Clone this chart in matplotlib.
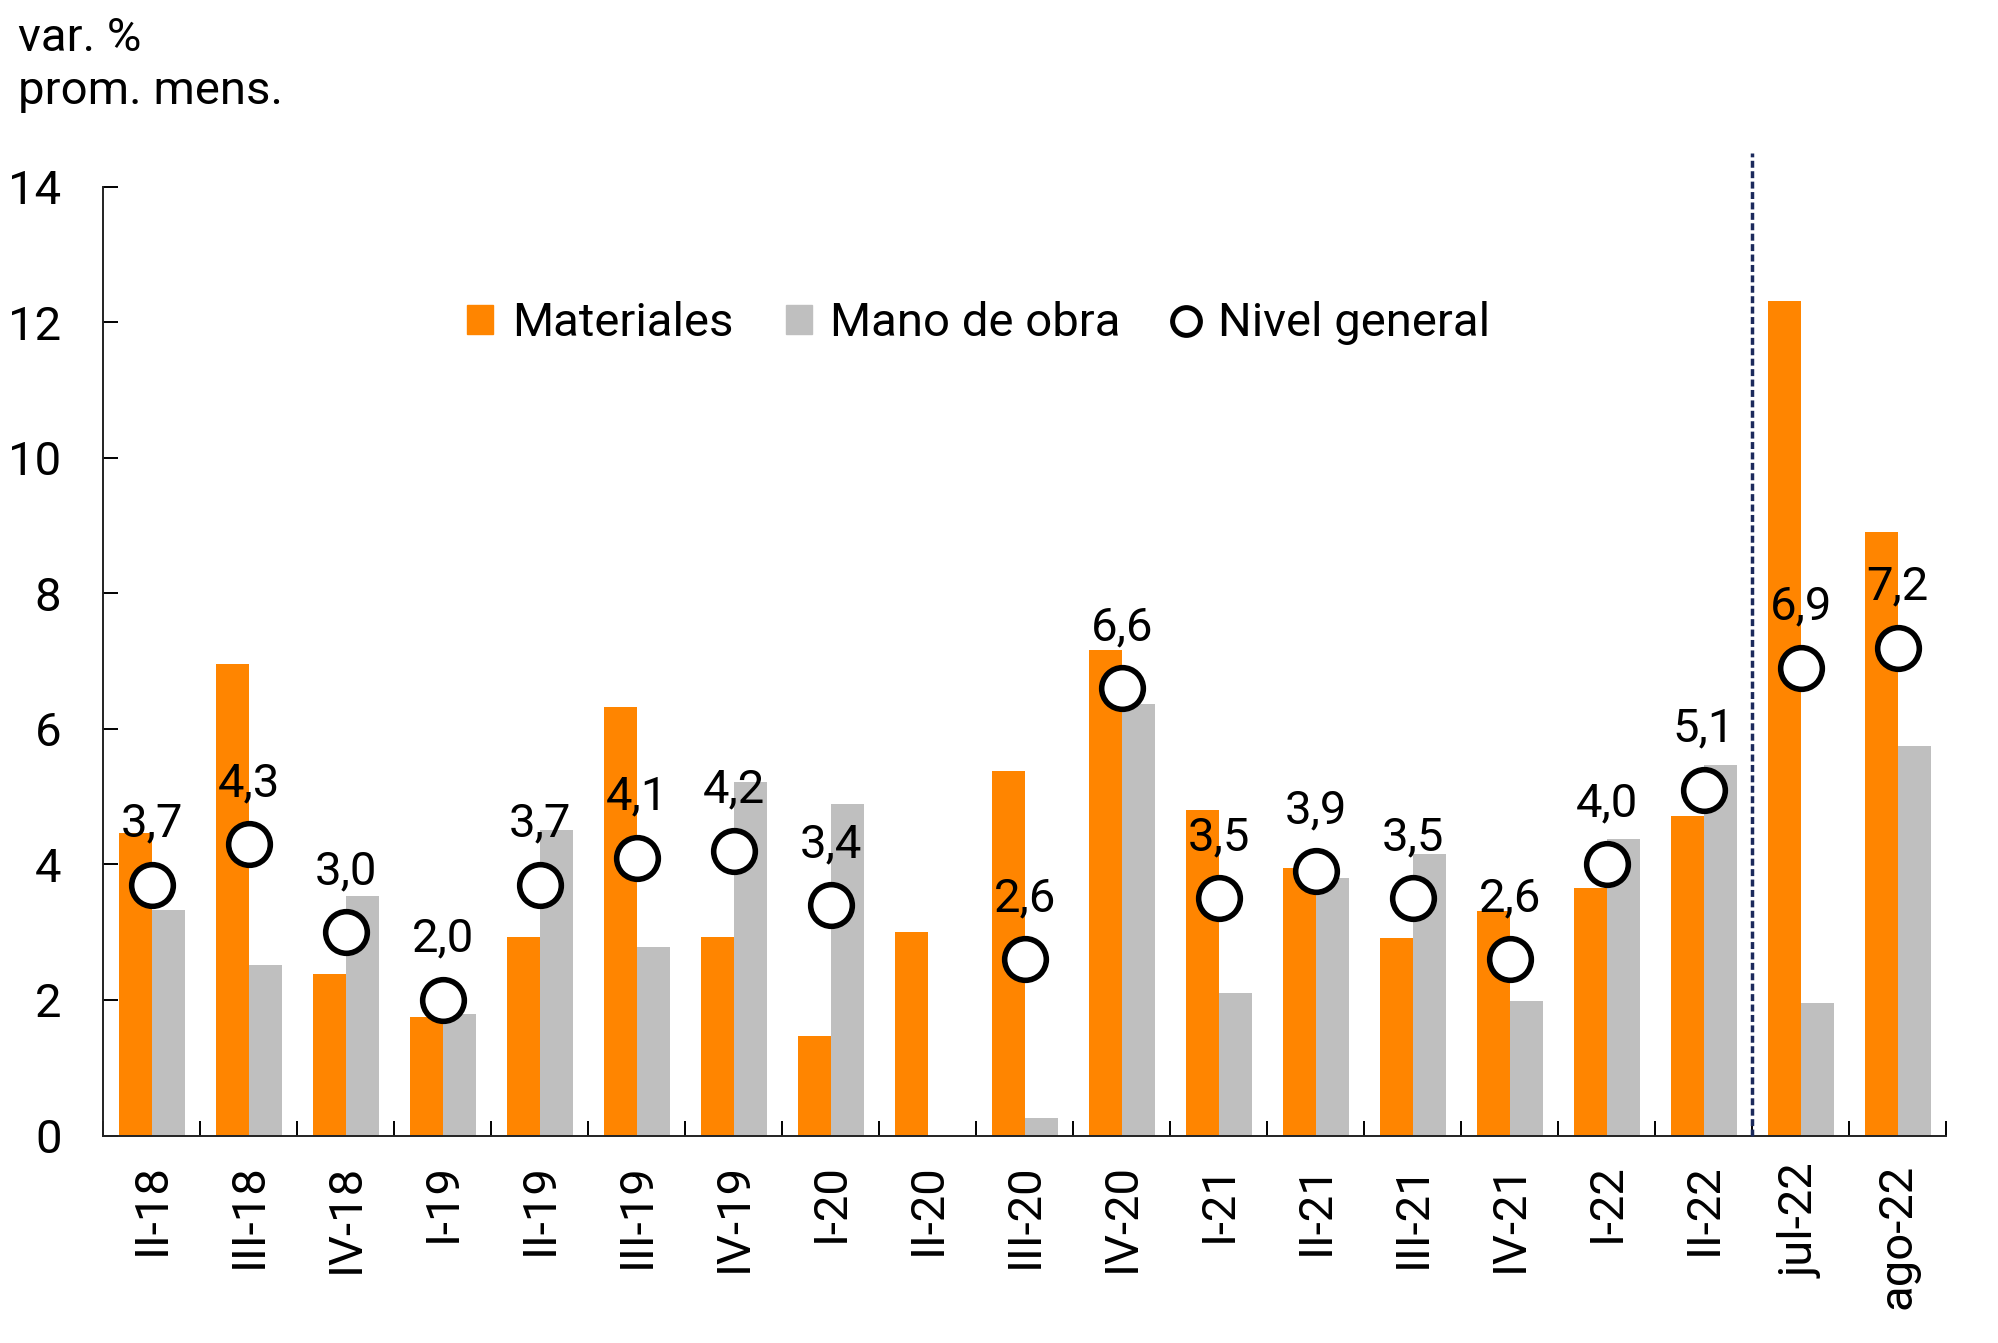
import numpy as np
import matplotlib
matplotlib.use("Agg")
import matplotlib.pyplot as plt
from matplotlib.patches import Patch
from matplotlib.lines import Line2D

plt.rcParams['font.family'] = ['Roboto', 'DejaVu Sans']

# datos
categorias = ["II-18", "III-18", "IV-18", "I-19", "II-19", "III-19", "IV-19",
              "I-20", "II-20", "III-20", "IV-20", "I-21", "II-21", "III-21",
              "IV-21", "I-22", "II-22", "jul-22", "ago-22"]
materiales = [4.47, 6.95, 2.39, 1.75, 2.93, 6.33, 2.93, 1.47, 3.0, 5.38, 7.16,
              4.81, 3.95, 2.91, 3.31, 3.65, 4.72, 12.31, 8.91]
mano_obra = [3.33, 2.52, 3.53, 1.79, 4.51, 2.78, 5.21, 4.89, np.nan, 0.26, 6.37,
             2.10, 3.80, 4.15, 1.99, 4.38, 5.47, 1.95, 5.75]
nivel_general = [3.7, 4.3, 3.0, 2.0, 3.7, 4.1, 4.2, 3.4, np.nan, 2.6, 6.6,
                 3.5, 3.9, 3.5, 2.6, 4.0, 5.1, 6.9, 7.2]

naranja = "#FF8500"
gris = "#BFBFBF"
azul = "#1B2A5C"
fs = 34

fig = plt.figure(figsize=(19.99, 13.43), dpi=100)
ax = fig.add_axes([0.0516, 0.1545, 0.922, 0.7065])

x = np.arange(len(categorias))
w = 0.34
ax.bar(x - w / 2, materiales, w, color=naranja, zorder=2)
ax.bar(x + w / 2, mano_obra, w, color=gris, zorder=2)
ax.plot(x, nivel_general, ls="none", marker="o", ms=30, mfc="white",
        mec="black", mew=4, zorder=4)

for xi, v in zip(x, nivel_general):
    if np.isnan(v):
        continue
    ax.annotate(f"{v:.1f}".replace(".", ","), (xi, v), xytext=(0, 44),
                textcoords="offset points", ha="center", va="center",
                fontsize=fs, zorder=5)

# linea vertical separando trimestres de meses
ax.plot([16.5, 16.5], [0, 14.5], ls=(0, (2.0, 1.0)), color=azul, lw=2.5,
        clip_on=False, zorder=3)

ax.set_xlim(-0.5, 18.5)
ax.set_ylim(0, 14)
ax.set_yticks(range(0, 15, 2))
ax.set_xticks(x)
ax.set_xticklabels(categorias, rotation=90)
ax.set_xticks(np.arange(-0.5, 19, 1), minor=True)
ax.tick_params(axis="x", which="major", length=0, pad=20, labelsize=fs)
ax.tick_params(axis="x", which="minor", direction="in", length=11, width=1.4)
ax.tick_params(axis="y", direction="in", length=11, width=1.4, pad=30,
               labelsize=fs)
for s in ["top", "right"]:
    ax.spines[s].set_visible(False)
for s in ["left", "bottom"]:
    ax.spines[s].set_linewidth(1.4)
    ax.spines[s].set_color("#222222")

handles = [Patch(color=naranja), Patch(color=gris),
           Line2D([], [], ls="none", marker="o", ms=20, mfc="white",
                  mec="black", mew=3.6)]
ax.legend(handles, ["Materiales", "Mano de obra", "Nivel general"],
          loc="center", bbox_to_anchor=(0.475, 0.856), ncol=3, frameon=False,
          fontsize=fs, handlelength=0.55, handleheight=0.55, handletextpad=0.4,
          columnspacing=1.1)

fig.text(0.009, 0.988, "var. %\nprom. mens.", ha="left", va="top",
         fontsize=fs, linespacing=1.25)

fig.savefig("out.png", dpi=100)
